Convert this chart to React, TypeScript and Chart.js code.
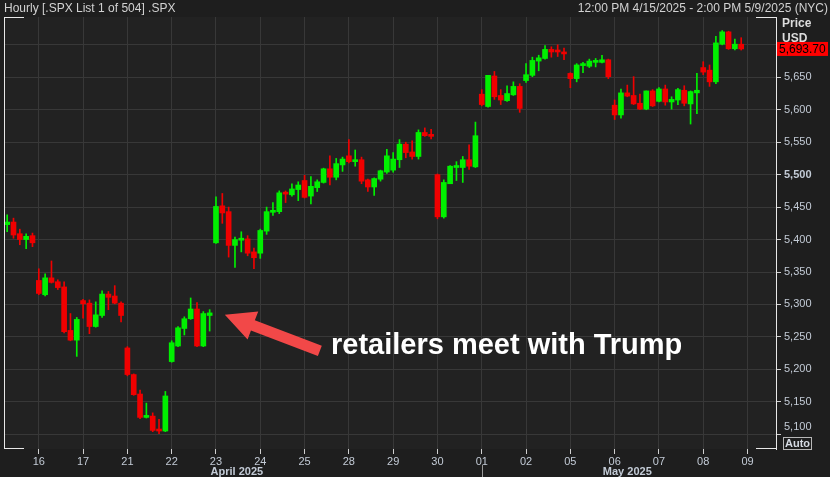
import React, { useEffect, useRef } from 'react';
import { Chart, registerables } from 'chart.js';

Chart.register(...registerables);

// ---- data ----
const days = ['04/15', '04/16', '04/17', '04/21', '04/22', '04/23', '04/24', '04/25', '04/28', '04/29', '04/30', '05/01', '05/02', '05/05', '05/06', '05/07', '05/08', '05/09'];
const firstDayHours = ['12:00', '13:00', '14:00', '15:00', '16:00'];
const fullDayHours = ['10:00', '11:00', '12:00', '13:00', '14:00', '15:00', '16:00'];
const lastDayHours = ['10:00', '11:00', '12:00', '13:00', '14:00'];

const opens = [
  5423, 5427, 5409, 5400, 5406,
  5337, 5315, 5341, 5335, 5327, 5260, 5245,
  5306, 5302, 5266, 5283, 5316, 5313, 5302,
  5233, 5192, 5162, 5126, 5128, 5107, 5105,
  5212, 5236, 5263, 5278, 5293, 5236, 5283,
  5395, 5452, 5443, 5391, 5399, 5401, 5381,
  5379, 5413, 5442, 5443, 5473, 5469, 5477,
  5491, 5467, 5480, 5488, 5509, 5496, 5515,
  5529, 5520, 5523, 5492, 5481, 5493, 5504,
  5507, 5523, 5547, 5535, 5528, 5565, 5561,
  5500, 5435, 5486, 5511, 5511, 5523, 5512,
  5624, 5605, 5652, 5622, 5614, 5623, 5636,
  5645, 5653, 5675, 5679, 5693, 5691, 5688,
  5656, 5648, 5668, 5667, 5673, 5673, 5677,
  5607, 5592, 5626, 5622, 5610, 5601, 5629,
  5613, 5632, 5612, 5615, 5630, 5609, 5626,
  5665, 5661, 5643, 5701, 5720, 5694, 5701,
];
const highs = [
  5438, 5433, 5416, 5409, 5410,
  5355, 5347, 5367, 5338, 5335, 5286, 5280,
  5308, 5307, 5304, 5321, 5320, 5329, 5304,
  5235, 5193, 5168, 5148, 5133, 5123, 5166,
  5244, 5266, 5281, 5310, 5303, 5289, 5292,
  5466, 5471, 5450, 5404, 5412, 5406, 5387,
  5416, 5450, 5457, 5475, 5475, 5486, 5489,
  5499, 5497, 5492, 5510, 5529, 5525, 5527,
  5554, 5538, 5527, 5493, 5495, 5507, 5539,
  5534, 5554, 5550, 5552, 5569, 5572, 5570,
  5501, 5492, 5514, 5520, 5528, 5546, 5581,
  5631, 5653, 5659, 5631, 5637, 5643, 5640,
  5671, 5681, 5684, 5699, 5697, 5700, 5695,
  5657, 5671, 5673, 5678, 5679, 5684, 5678,
  5615, 5632, 5638, 5651, 5624, 5629, 5631,
  5634, 5638, 5620, 5633, 5637, 5629, 5656,
  5674, 5669, 5713, 5722, 5721, 5709, 5711,
];
const lows = [
  5412, 5402, 5392, 5386, 5389,
  5315, 5313, 5333, 5323, 5256, 5244, 5220,
  5279, 5255, 5265, 5280, 5292, 5301, 5273,
  5190, 5160, 5124, 5125, 5104, 5101, 5104,
  5211, 5235, 5253, 5277, 5235, 5235, 5259,
  5394, 5425, 5373, 5357, 5381, 5375, 5355,
  5371, 5408, 5437, 5440, 5457, 5467, 5460,
  5464, 5455, 5474, 5487, 5484, 5492, 5505,
  5518, 5513, 5486, 5474, 5468, 5490, 5502,
  5504, 5511, 5526, 5524, 5524, 5559, 5555,
  5432, 5433, 5486, 5491, 5488, 5508, 5511,
  5606, 5604, 5616, 5608, 5613, 5622, 5596,
  5642, 5651, 5660, 5678, 5681, 5682, 5677,
  5634, 5643, 5657, 5665, 5666, 5672, 5648,
  5585, 5587, 5620, 5608, 5600, 5600, 5605,
  5612, 5607, 5601, 5608, 5606, 5578, 5594,
  5654, 5636, 5640, 5700, 5693, 5692, 5692,
];
const closes = [
  5427, 5407, 5400, 5405, 5395,
  5317, 5341, 5334, 5326, 5258, 5245, 5277,
  5301, 5266, 5284, 5316, 5311, 5302, 5283,
  5192, 5161, 5126, 5129, 5106, 5105, 5159,
  5241, 5264, 5278, 5293, 5236, 5286, 5287,
  5451, 5441, 5391, 5400, 5402, 5379, 5372,
  5414, 5443, 5445, 5472, 5470, 5478, 5484,
  5465, 5482, 5489, 5509, 5496, 5517, 5524,
  5520, 5523, 5490, 5481, 5494, 5506, 5529,
  5524, 5547, 5534, 5528, 5565, 5560, 5559,
  5435, 5488, 5513, 5512, 5523, 5513, 5560,
  5608, 5653, 5620, 5615, 5625, 5636, 5602,
  5654, 5676, 5680, 5693, 5689, 5689, 5686,
  5648, 5669, 5670, 5675, 5675, 5677, 5651,
  5592, 5626, 5621, 5609, 5601, 5629, 5606,
  5632, 5612, 5616, 5631, 5610, 5628, 5630,
  5658, 5643, 5703, 5720, 5694, 5701, 5693.7,
];
const lastPrice = 5693.7;
const yTicksHidden = [5700, 5100];
const boldTick = 5500;
const monthLabels = ['April 2025', 'May 2025'];
const annotationText = 'retailers meet with Trump';

// categories built from day / hour lists
const categories: string[] = [];
days.forEach((d, i) => {
  const hrs = i === 0 ? firstDayHours : i === days.length - 1 ? lastDayHours : fullDayHours;
  hrs.forEach((h) => categories.push(d + ' ' + h));
});

const UP = '#00f000';
const DOWN = '#f00000';
const FONT = '"Liberation Sans", Arial, sans-serif';
const AXIS_TEXT = '#c3cbd6';
const GRID = '#383838';

function isDayStart(i: number) {
  const c = categories[i];
  return !!c && c.endsWith(' 10:00');
}

export default function App() {
  const ref = useRef<HTMLCanvasElement | null>(null);

  useEffect(() => {
    if (!ref.current) return;
    const bodies = categories.map((_, i) => (i < opens.length ? [opens[i], closes[i]] : null));
    const wicks = categories.map((_, i) => (i < opens.length ? [lows[i], highs[i]] : null));
    const colors = categories.map((_, i) => (i < opens.length && closes[i] >= opens[i] ? UP : DOWN));

    const deco = {
      id: 'deco',
      beforeDraw(chart: any) {
        const { ctx, chartArea: a } = chart;
        ctx.save();
        ctx.fillStyle = '#1e1e1e';
        ctx.fillRect(0, 0, chart.width, chart.height);
        ctx.fillStyle = '#222222';
        ctx.fillRect(a.left, a.top, a.right - a.left, a.bottom - a.top);
        ctx.restore();
      },
      afterDraw(chart: any) {
        const { ctx, chartArea: a } = chart;
        const xs = chart.scales.x;
        const ys = chart.scales.y;
        ctx.save();
        // frame
        ctx.strokeStyle = '#e8e8e8';
        ctx.lineWidth = 1;
        ctx.beginPath();
        ctx.moveTo(a.left + 0.5, a.top);
        ctx.lineTo(a.left + 0.5, a.bottom);
        ctx.moveTo(a.left, a.top + 0.5);
        ctx.lineTo(a.left + 20, a.top + 0.5);
        ctx.moveTo(a.right - 20, a.top + 0.5);
        ctx.lineTo(a.right, a.top + 0.5);
        ctx.moveTo(a.left, a.bottom - 0.5);
        ctx.lineTo(a.left + 20, a.bottom - 0.5);
        ctx.moveTo(a.right - 20, a.bottom - 0.5);
        ctx.lineTo(a.right, a.bottom - 0.5);
        ctx.stroke();

        // month row
        const sepIdx = categories.indexOf('05/01 10:00');
        const sepX = Math.round(xs.getPixelForValue(sepIdx)) + 0.5;
        ctx.strokeStyle = '#9a9a9a';
        ctx.beginPath();
        ctx.moveTo(sepX, 465);
        ctx.lineTo(sepX, chart.height);
        ctx.stroke();
        ctx.fillStyle = AXIS_TEXT;
        ctx.font = 'bold 11px ' + FONT;
        ctx.textAlign = 'center';
        ctx.textBaseline = 'middle';
        ctx.fillText(monthLabels[0], xs.getPixelForValue(36.3), 472);
        ctx.fillText(monthLabels[1], xs.getPixelForValue(98), 472);

        // 5,100 label lifted
        ctx.font = '11px ' + FONT;
        ctx.textAlign = 'left';
        ctx.fillText('5,100', a.right + 8, 427);

        // last price tag
        const py = ys.getPixelForValue(lastPrice);
        ctx.fillStyle = '#ff0000';
        ctx.fillRect(a.right + 1, py - 7, 51, 14);
        ctx.fillStyle = '#000000';
        ctx.font = '12px ' + FONT;
        ctx.fillText('5,693.70', a.right + 3, py + 0.5);

        // arrow annotation
        const tx = xs.getPixelForValue(34.4);
        const ty = ys.getPixelForValue(5284);
        const ex = tx + 95;
        const ey = ty + 36;
        const L = Math.hypot(ex - tx, ey - ty);
        const dx = (ex - tx) / L;
        const dy = (ey - ty) / L;
        const px = -dy;
        const py2 = dx;
        const hb = 30;
        const hw = 15;
        const sw = 5.5;
        const bx = tx + dx * hb;
        const by = ty + dy * hb;
        ctx.fillStyle = '#f24848';
        ctx.beginPath();
        ctx.moveTo(tx, ty);
        ctx.lineTo(bx + px * hw, by + py2 * hw);
        ctx.lineTo(bx + px * sw, by + py2 * sw);
        ctx.lineTo(ex + px * sw, ey + py2 * sw);
        ctx.lineTo(ex - px * sw, ey - py2 * sw);
        ctx.lineTo(bx - px * sw, by - py2 * sw);
        ctx.lineTo(bx - px * hw, by - py2 * hw);
        ctx.closePath();
        ctx.fill();
        ctx.restore();
      },
    };

    const chart = new Chart(ref.current, {
      type: 'bar',
      data: {
        labels: categories,
        datasets: [
          {
            label: 'body',
            data: bodies as any,
            backgroundColor: colors,
            borderWidth: 0,
            barThickness: 5,
            minBarLength: 2,
            grouped: false,
          } as any,
          {
            label: 'wick',
            data: wicks as any,
            backgroundColor: colors,
            borderWidth: 0,
            barThickness: 1,
            grouped: false,
          } as any,
        ],
      },
      options: {
        animation: false,
        responsive: false,
        maintainAspectRatio: false,
        layout: { padding: { top: 17, left: 4, right: 0, bottom: 0 } },
        plugins: { legend: { display: false }, tooltip: { enabled: false } },
        scales: {
          x: {
            type: 'category',
            offset: true,
            grid: {
              offset: false,
              color: (c: any) => (isDayStart(c.index) ? GRID : 'rgba(0,0,0,0)'),
              tickColor: (c: any) => (isDayStart(c.index) ? '#d0d0d0' : 'rgba(0,0,0,0)'),
              tickLength: 5,
              drawTicks: true,
            },
            border: { display: false },
            ticks: {
              autoSkip: false,
              maxRotation: 0,
              minRotation: 0,
              padding: 1,
              color: AXIS_TEXT,
              font: { family: FONT, size: 11 },
              callback: (v: any, i: number) => (isDayStart(i) ? categories[i].slice(3, 5) : ''),
            },
            afterFit: (s: any) => {
              s.height = 28;
            },
          } as any,
          y: {
            position: 'right',
            min: 5077.3,
            max: 5742.9,
            grid: { color: GRID, tickColor: '#d0d0d0', tickLength: 5 },
            border: { color: '#e8e8e8' },
            ticks: {
              stepSize: 50,
              includeBounds: false,
              padding: 3,
              color: AXIS_TEXT,
              font: (c: any) => ({ family: FONT, size: 11, weight: c.tick && c.tick.value === boldTick ? 'bold' : 'normal' }),
              callback: (v: any) => (yTicksHidden.includes(v) ? '' : Number(v).toLocaleString('en-US')),
            },
            afterFit: (s: any) => {
              s.width = 54;
            },
          } as any,
        },
      },
      plugins: [deco],
    });
    return () => chart.destroy();
  }, []);

  const txt: React.CSSProperties = { position: 'absolute', fontFamily: FONT, whiteSpace: 'nowrap' };

  return (
    <div style={{ position: 'fixed', left: 0, top: 0, width: 830, height: 477, background: '#1e1e1e', overflow: 'hidden' }}>
      <canvas ref={ref} width={830} height={477} style={{ position: 'absolute', left: 0, top: 0 }} />
      <div style={{ ...txt, left: 4, top: 1, fontSize: 12, lineHeight: '14px', color: '#d2d2d2' }}>Hourly [.SPX List 1 of 504] .SPX</div>
      <div style={{ ...txt, right: 2, top: 1, fontSize: 12, lineHeight: '14px', color: '#d2d2d2' }}>12:00 PM 4/15/2025 - 2:00 PM 5/9/2025 (NYC)</div>
      <div style={{ ...txt, left: 782, top: 16, fontSize: 12, lineHeight: '14px', fontWeight: 'bold', color: '#dcdcdc' }}>Price</div>
      <div style={{ ...txt, left: 782, top: 31, fontSize: 12, lineHeight: '14px', fontWeight: 'bold', color: '#dcdcdc' }}>USD</div>
      <div style={{ ...txt, left: 783, top: 437, width: 27, height: 11, border: '1px solid #b8b8b8', fontSize: 11, lineHeight: '11px', fontWeight: 'bold', color: '#d6dbe3', textAlign: 'center' }}>Auto</div>
      <div style={{ ...txt, left: 331, top: 327, fontSize: 29, lineHeight: '34px', fontWeight: 'bold', color: '#ffffff' }}>{annotationText}</div>
    </div>
  );
}
